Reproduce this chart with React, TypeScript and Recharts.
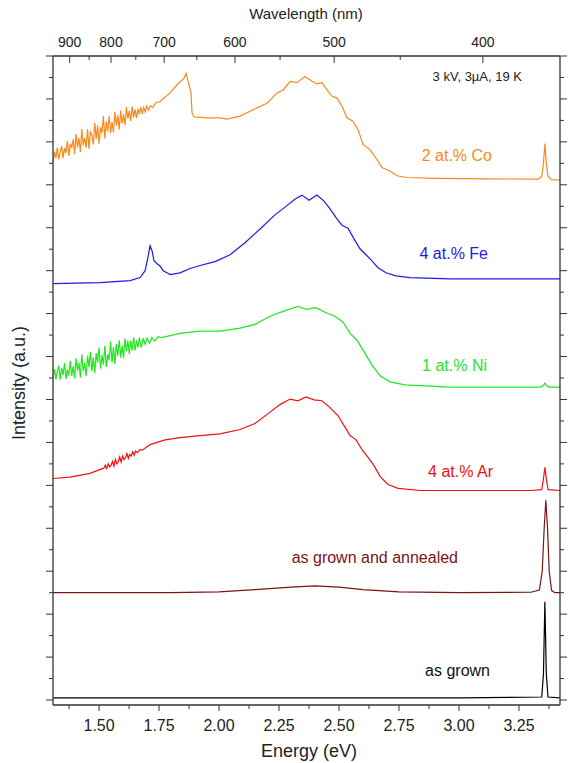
import React from 'react';
import { LineChart, Line, XAxis, YAxis } from 'recharts';

// photon energy (eV) <-> wavelength (nm)
const HC = 1239.84;

const energyTicks = [1.375, 1.5, 1.625, 1.75, 1.875, 2.0, 2.125, 2.25, 2.375, 2.5, 2.625, 2.75, 2.875, 3.0, 3.125, 3.25, 3.375];
const energyLabels = [1.5, 1.75, 2.0, 2.25, 2.5, 2.75, 3.0, 3.25];
const wavelengthTicks = [900, 850, 800, 750, 700, 650, 600, 550, 500, 450, 400];
const wavelengthLabels = [900, 800, 700, 600, 500, 400];
const intensityTicks = [0, 0.5, 1, 1.5, 2, 2.5, 3, 3.5, 4, 4.5, 5, 5.5, 6, 6.5, 7, 7.5, 8, 8.5, 9, 9.5, 10, 10.5, 11, 11.5, 12, 12.5, 13, 13.5, 14, 14.5, 15];

// [energy eV, intensity a.u. (offset stacked)]
const asGrown = [
  [1.308, 0.05], [2.0, 0.05], [3.0, 0.05], [3.345, 0.07], [3.352, 0.6], [3.358, 2.29],
  [3.364, 0.6], [3.371, 0.07], [3.421, 0.05],
];

const annealed = [
  [1.308, 2.5], [1.8, 2.5], [2.0, 2.52], [2.15, 2.57], [2.3, 2.63], [2.4, 2.66], [2.5, 2.63],
  [2.6, 2.57], [2.75, 2.52], [3.0, 2.5], [3.3, 2.51], [3.335, 2.56], [3.347, 3.0], [3.355, 4.0],
  [3.362, 4.65], [3.369, 4.0], [3.376, 3.0], [3.386, 2.55], [3.4, 2.5], [3.421, 2.5],
];

const ar = [
  [1.308, 5.16], [1.379, 5.19], [1.4625, 5.28], [1.5, 5.36], [1.52, 5.4], [1.526, 5.47],
  [1.532, 5.39], [1.538, 5.5], [1.544, 5.43], [1.55, 5.47], [1.556, 5.56], [1.562, 5.45],
  [1.568, 5.6], [1.574, 5.5], [1.58, 5.55], [1.586, 5.66], [1.592, 5.54], [1.598, 5.68],
  [1.604, 5.6], [1.61, 5.64], [1.616, 5.74], [1.622, 5.63], [1.628, 5.72], [1.634, 5.68],
  [1.64, 5.78], [1.646, 5.7], [1.652, 5.8], [1.66, 5.76], [1.67, 5.83], [1.68, 5.82],
  [1.7125, 5.95], [1.775, 6.06], [1.8375, 6.11], [1.921, 6.16], [2.004, 6.2],
  [2.0875, 6.3], [2.15, 6.44], [2.204, 6.67], [2.254, 6.88], [2.296, 7.01], [2.329, 6.97],
  [2.3625, 7.06], [2.396, 6.99], [2.429, 6.97], [2.4625, 6.81], [2.496, 6.62], [2.521, 6.39],
  [2.546, 6.16], [2.571, 6.06], [2.596, 5.83], [2.621, 5.65], [2.646, 5.46], [2.671, 5.21],
  [2.704, 5.02], [2.746, 4.93], [2.8375, 4.88], [3.3, 4.88], [3.345, 4.9], [3.352, 5.15],
  [3.358, 5.42], [3.364, 5.15], [3.371, 4.9], [3.421, 4.88],
];

const ni = [
  [1.308, 7.49], [1.314, 7.71], [1.32, 7.47], [1.326, 7.66], [1.332, 7.79], [1.338, 7.46],
  [1.344, 7.73], [1.35, 7.57], [1.356, 7.85], [1.362, 7.48], [1.368, 7.7], [1.374, 7.55],
  [1.38, 7.9], [1.386, 7.55], [1.392, 7.78], [1.398, 7.49], [1.404, 7.96], [1.41, 7.67],
  [1.416, 7.86], [1.422, 7.51], [1.428, 8.05], [1.434, 7.66], [1.44, 7.85], [1.446, 7.55],
  [1.452, 8.02], [1.458, 7.75], [1.464, 8.11], [1.47, 7.66], [1.476, 7.98], [1.482, 7.61],
  [1.488, 8.08], [1.494, 7.86], [1.5, 8.21], [1.506, 7.72], [1.512, 8.04], [1.518, 7.81],
  [1.524, 8.25], [1.53, 7.76], [1.536, 8.06], [1.542, 7.91], [1.548, 8.35], [1.554, 7.86],
  [1.56, 8.22], [1.566, 7.83], [1.572, 8.29], [1.578, 8.02], [1.584, 8.38], [1.59, 7.98],
  [1.596, 8.25], [1.602, 7.96], [1.608, 8.42], [1.614, 8.13], [1.62, 8.38], [1.626, 8.06],
  [1.632, 8.37], [1.638, 8.14], [1.644, 8.45], [1.65, 8.14], [1.656, 8.38], [1.662, 8.21],
  [1.668, 8.44], [1.676, 8.21], [1.684, 8.43], [1.692, 8.28], [1.7, 8.43], [1.71, 8.31],
  [1.72, 8.44], [1.732, 8.36], [1.746, 8.46], [1.76, 8.44], [1.8375, 8.54], [1.921, 8.59],
  [2.004, 8.59], [2.0875, 8.66], [2.15, 8.75], [2.2125, 8.94], [2.275, 9.07], [2.329, 9.17],
  [2.3625, 9.1], [2.404, 9.14], [2.4417, 9.03], [2.483, 8.94], [2.517, 8.8], [2.546, 8.54],
  [2.575, 8.38], [2.608, 8.08], [2.6375, 7.8], [2.671, 7.55], [2.7125, 7.41], [2.775, 7.34],
  [2.9625, 7.29], [3.34, 7.29], [3.352, 7.33], [3.358, 7.38], [3.364, 7.33], [3.376, 7.29],
  [3.421, 7.29],
];

const fe = [
  [1.308, 9.7], [1.504, 9.72], [1.629, 9.77], [1.671, 9.84], [1.692, 10.0], [1.704, 10.32],
  [1.7125, 10.58], [1.721, 10.46], [1.729, 10.23], [1.742, 10.16], [1.754, 10.11], [1.767, 10.0],
  [1.783, 9.95], [1.796, 9.91], [1.8375, 9.95], [1.879, 10.05], [1.921, 10.12], [1.983, 10.21],
  [2.046, 10.37], [2.108, 10.65], [2.171, 10.97], [2.233, 11.3], [2.275, 11.48], [2.317, 11.67],
  [2.346, 11.76], [2.375, 11.64], [2.408, 11.76], [2.4375, 11.62], [2.4625, 11.44], [2.492, 11.2],
  [2.5125, 11.06], [2.5375, 10.99], [2.5625, 10.74], [2.5875, 10.51], [2.6125, 10.37],
  [2.6375, 10.23], [2.6625, 10.07], [2.696, 9.95], [2.7375, 9.88], [2.796, 9.84], [2.9625, 9.81],
  [3.421, 9.81],
];

const co = [
  [1.308, 12.53], [1.314, 12.77], [1.32, 12.62], [1.326, 12.87], [1.332, 12.59], [1.338, 12.77],
  [1.344, 12.9], [1.35, 12.62], [1.356, 12.86], [1.362, 12.74], [1.368, 13.02], [1.374, 12.68],
  [1.38, 12.96], [1.386, 12.86], [1.392, 13.06], [1.398, 12.72], [1.404, 13.18], [1.41, 12.87],
  [1.416, 13.09], [1.422, 12.76], [1.428, 13.3], [1.434, 12.92], [1.44, 13.09], [1.446, 12.87],
  [1.452, 13.29], [1.458, 12.84], [1.464, 13.25], [1.47, 13.15], [1.476, 12.94], [1.482, 13.44],
  [1.488, 13.06], [1.494, 13.38], [1.5, 12.96], [1.506, 13.34], [1.512, 13.21], [1.518, 13.6],
  [1.524, 13.08], [1.53, 13.47], [1.536, 13.24], [1.542, 13.6], [1.548, 13.2], [1.554, 13.46],
  [1.56, 13.22], [1.566, 13.7], [1.572, 13.38], [1.578, 13.62], [1.584, 13.29], [1.59, 13.73],
  [1.596, 13.43], [1.602, 13.64], [1.608, 13.39], [1.614, 13.81], [1.62, 13.54], [1.626, 13.73],
  [1.632, 13.48], [1.638, 13.82], [1.644, 13.57], [1.65, 13.76], [1.656, 13.56], [1.662, 13.77],
  [1.668, 13.64], [1.674, 13.81], [1.68, 13.65], [1.686, 13.8], [1.692, 13.7], [1.698, 13.83],
  [1.706, 13.74], [1.714, 13.84], [1.724, 13.8], [1.736, 13.91], [1.754, 13.94], [1.796, 14.14],
  [1.825, 14.33], [1.846, 14.44], [1.856, 14.5], [1.8625, 14.6], [1.868, 14.48], [1.874, 14.35],
  [1.883, 14.14], [1.8875, 13.67], [1.896, 13.58], [1.95, 13.56], [2.004, 13.56], [2.033, 13.53],
  [2.0875, 13.6], [2.142, 13.75], [2.2, 13.9], [2.242, 14.14], [2.267, 14.21], [2.296, 14.41],
  [2.325, 14.38], [2.358, 14.52], [2.3875, 14.41], [2.408, 14.35], [2.429, 14.38], [2.45, 14.21],
  [2.471, 14.06], [2.492, 14.02], [2.5125, 13.83], [2.533, 13.56], [2.558, 13.48], [2.579, 13.29],
  [2.6, 12.94], [2.629, 12.82], [2.658, 12.59], [2.679, 12.4], [2.7125, 12.32], [2.742, 12.21],
  [2.783, 12.17], [2.9, 12.15], [3.1, 12.14], [3.33, 12.13], [3.345, 12.2], [3.352, 12.5],
  [3.358, 12.96], [3.364, 12.5], [3.371, 12.2], [3.385, 12.12], [3.421, 12.11],
];

const toPoints = (arr: number[][]) => arr.map(([e, v]) => ({ e, v }));

const FONT = '"Liberation Sans", Arial, sans-serif';
const AXIS = '#333';
const E_DOMAIN: [number, number] = [1.308, 3.421];
const I_DOMAIN: [number, number] = [-0.116, 15];

// the Co trace is bound to the (identical-domain) top axis so that axis is drawn too
const series = [
  { name: 'as grown', data: asGrown, color: '#000000', xAxis: 'e' },
  { name: 'as grown and annealed', data: annealed, color: '#7a1515', xAxis: 'e' },
  { name: '4 at.% Ar', data: ar, color: '#f01010', xAxis: 'e' },
  { name: '1 at.% Ni', data: ni, color: '#22e622', xAxis: 'e' },
  { name: '4 at.% Fe', data: fe, color: '#1c1ce0', xAxis: 'e' },
  { name: '2 at.% Co', data: co, color: '#f78a1c', xAxis: 'wl' },
];

const near = (a: number, b: number) => Math.abs(a - b) < 1e-6;

const LeftTick = (props: any) => {
  const { x, y, payload } = props;
  const len = Number.isInteger(payload.value) ? 7 : 4;
  return <line x1={x} y1={y} x2={x - len} y2={y} stroke={AXIS} strokeWidth={1} />;
};

const RightTick = (props: any) => {
  const { x, y, payload } = props;
  const len = Number.isInteger(payload.value) ? 7 : 4;
  return <line x1={x} y1={y} x2={x + len} y2={y} stroke={AXIS} strokeWidth={1} />;
};

const BottomTick = (props: any) => {
  const { x, y, payload } = props;
  const major = energyLabels.some((v) => near(v, payload.value));
  return (
    <g>
      <line x1={x} y1={y} x2={x} y2={y + (major ? 6 : 4)} stroke={AXIS} strokeWidth={1} />
      {major && (
        <text x={x} y={y + 26} textAnchor="middle" fontSize={16} fill="#222" fontFamily={FONT}>
          {payload.value.toFixed(2)}
        </text>
      )}
    </g>
  );
};

const TopTick = (props: any) => {
  const { x, y, payload } = props;
  const wl = Math.round(HC / payload.value);
  const major = wavelengthLabels.includes(wl);
  return (
    <g>
      <line x1={x} y1={y} x2={x} y2={y + (major ? 7 : 4)} stroke={AXIS} strokeWidth={1} />
      {major && (
        <text x={x} y={y - 9} textAnchor="middle" fontSize={14} fill="#222" fontFamily={FONT}>
          {wl}
        </text>
      )}
    </g>
  );
};

const App: React.FC = () => {
  return (
    <div style={{ width: 575, height: 763 }}>
      <style>{'body{margin:0;overflow:hidden}'}</style>
      <LineChart width={575} height={763} margin={{ top: 0, right: 0, bottom: 0, left: 0 }}>
        <XAxis xAxisId="e" dataKey="e" orientation="bottom" type="number" domain={E_DOMAIN} allowDataOverflow
          ticks={energyTicks} interval={0} height={58} tickSize={0} tickMargin={0} tickLine={false}
          tick={BottomTick} axisLine={{ stroke: AXIS, strokeWidth: 1.3 }} />
        <XAxis xAxisId="wl" dataKey="e" orientation="top" type="number" domain={E_DOMAIN} allowDataOverflow
          ticks={wavelengthTicks.map((w) => HC / w)} interval={0} height={56} tickSize={0} tickMargin={0}
          tickLine={false} tick={TopTick} axisLine={{ stroke: AXIS, strokeWidth: 1.3 }} />
        <YAxis yAxisId="i" orientation="left" type="number" domain={I_DOMAIN} allowDataOverflow
          ticks={intensityTicks} interval={0} width={53} tickSize={0} tickMargin={0} tickLine={false}
          tick={LeftTick} axisLine={{ stroke: AXIS, strokeWidth: 1.3 }} />
        <YAxis yAxisId="r" orientation="right" type="number" domain={I_DOMAIN} allowDataOverflow
          ticks={intensityTicks} interval={0} width={15} tickSize={0} tickMargin={0} tickLine={false}
          tick={RightTick} axisLine={{ stroke: AXIS, strokeWidth: 1.3 }} />

        {series.map((s) => (
          <Line
            key={s.name}
            xAxisId={s.xAxis}
            yAxisId="i"
            data={toPoints(s.data)}
            dataKey="v"
            type="linear"
            stroke={s.color}
            strokeWidth={1.2}
            dot={false}
            activeDot={false}
            isAnimationActive={false}
          />
        ))}

        <text x={306} y={19} textAnchor="middle" fontSize={15} fill="#222" fontFamily={FONT}>Wavelength (nm)</text>
        <text x={309} y={757} textAnchor="middle" fontSize={18} fill="#222" fontFamily={FONT}>Energy (eV)</text>
        <text x={25} y={383} textAnchor="middle" fontSize={18} fill="#222" fontFamily={FONT}
          transform="rotate(-90 25 383)">Intensity (a.u.)</text>
        <text x={522} y={81} textAnchor="end" fontSize={13} fill="#222" fontFamily={FONT}>3 kV, 3µA, 19 K</text>
        <text x={492} y={161} textAnchor="end" fontSize={16} fill="#f78a1c" fontFamily={FONT}>2 at.% Co</text>
        <text x={488} y={259} textAnchor="end" fontSize={16} fill="#1c1ce0" fontFamily={FONT}>4 at.% Fe</text>
        <text x={487} y={371} textAnchor="end" fontSize={16} fill="#22e622" fontFamily={FONT}>1 at.% Ni</text>
        <text x={493} y={477} textAnchor="end" fontSize={16} fill="#f01010" fontFamily={FONT}>4 at.% Ar</text>
        <text x={458} y={563} textAnchor="end" fontSize={16} fill="#7a1515" fontFamily={FONT}>as grown and annealed</text>
        <text x={490} y={676} textAnchor="end" fontSize={16} fill="#111" fontFamily={FONT}>as grown</text>
      </LineChart>
    </div>
  );
};

export default App;
